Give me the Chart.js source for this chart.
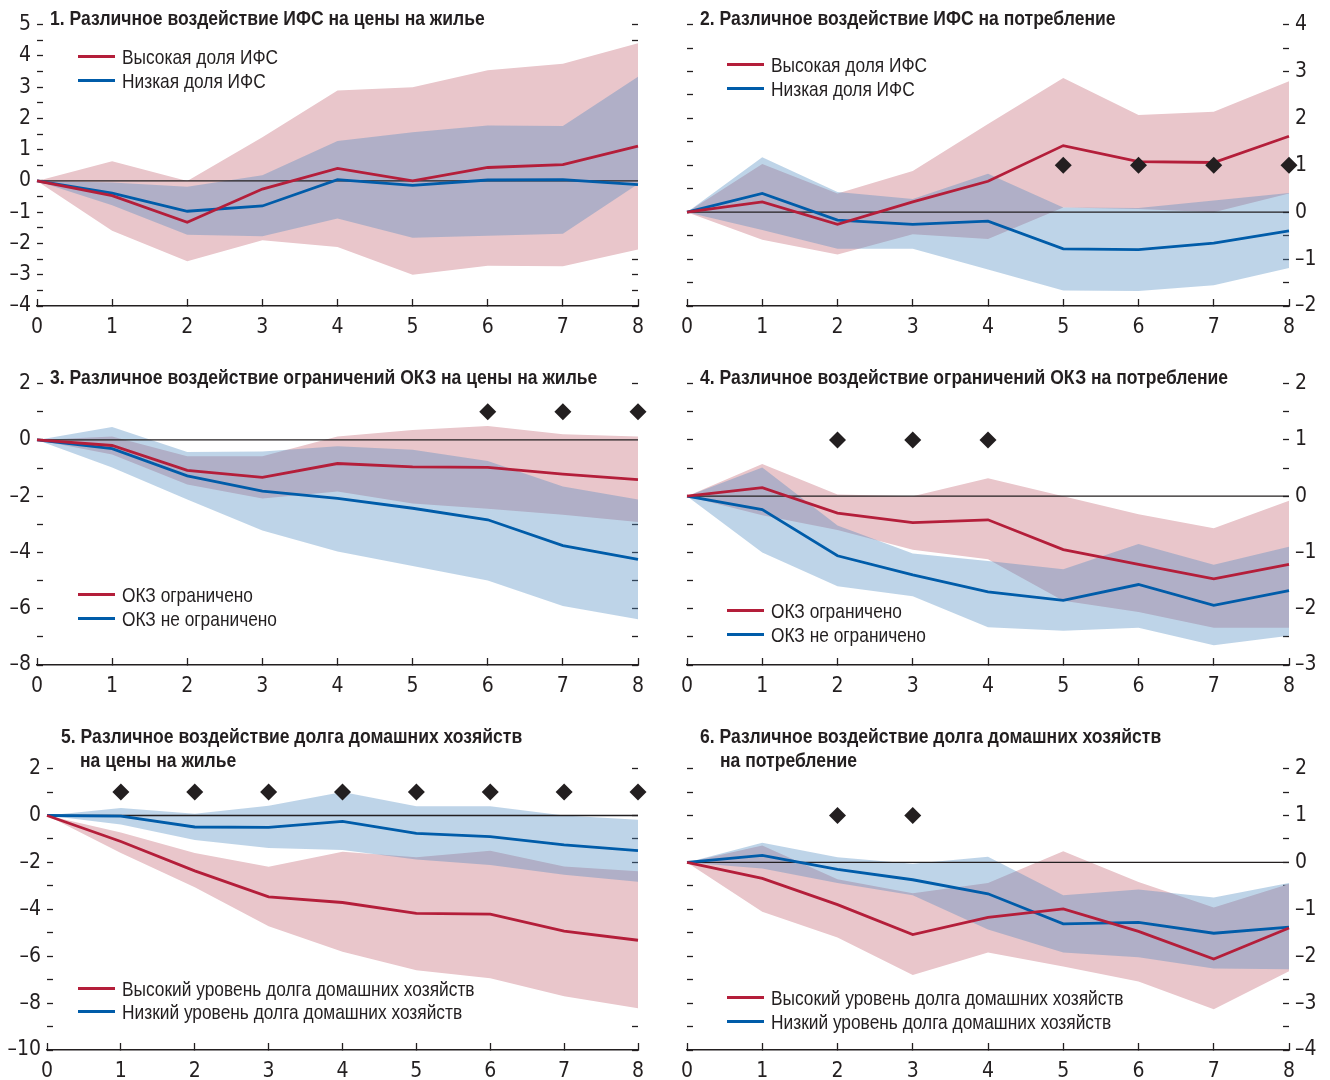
<!DOCTYPE html>
<html lang="ru">
<head>
<meta charset="utf-8">
<title>Различное воздействие ИФС, ограничений ОКЗ и долга домашних хозяйств</title>
<script src="https://cdn.jsdelivr.net/npm/chart.js@4.4.1/dist/chart.umd.min.js"></script>
<style>
  body {
    margin: 0;
    width: 1330px;
    height: 1080px;
    position: relative;
    overflow: hidden;
    background: #fff;
    color: #231f20;
    font-family: 'Liberation Sans', Arial, sans-serif;
  }
  .panel { position: absolute; }
  .title {
    position: absolute;
    font-weight: bold;
    font-size: 21px;
    line-height: 24px;
    white-space: nowrap;
    transform: scaleX(0.835);
    transform-origin: 0 50%;
  }
  .legend-row {
    position: absolute;
    height: 24px;
    line-height: 24px;
    font-size: 21px;
    white-space: nowrap;
  }
  .legend-row .sw {
    position: absolute;
    left: 0;
    top: 10px;
    width: 37px;
    height: 3px;
  }
  .legend-row .txt {
    position: absolute;
    left: 44px;
    top: 0;
    transform: scaleX(0.825);
    transform-origin: 0 50%;
  }
</style>
</head>
<body>
<script>
// горизонт (кварталы)
const horizons = ['0', '1', '2', '3', '4', '5', '6', '7', '8'];
const zeroLine = [0, 0, 0, 0, 0, 0, 0, 0, 0];

// 1. ИФС -> цены на жилье
const p1HighLine  = [0, -0.47, -1.32, -0.26, 0.40, 0.00, 0.43, 0.52, 1.11];
const p1LowLine   = [0, -0.39, -0.97, -0.80, 0.04, -0.14, 0.03, 0.04, -0.12];
const p1HighUpper = [0, 0.63, 0.00, 1.40, 2.89, 3.00, 3.54, 3.75, 4.40];
const p1HighLower = [0, -1.59, -2.57, -1.90, -2.11, -3.00, -2.71, -2.73, -2.19];
const p1LowUpper  = [0, -0.05, -0.19, 0.18, 1.28, 1.56, 1.77, 1.76, 3.33];
const p1LowLower  = [0, -0.78, -1.72, -1.77, -1.20, -1.82, -1.75, -1.69, -0.10];
const p1Marks     = [null, null, null, null, null, null, null, null, null];
const p1YLabels   = [-4, -3, -2, -1, 0, 1, 2, 3, 4, 5];

// 2. ИФС -> потребление
const p2HighLine  = [0, 0.22, -0.26, 0.22, 0.66, 1.42, 1.08, 1.06, 1.62];
const p2LowLine   = [0, 0.40, -0.17, -0.26, -0.19, -0.78, -0.80, -0.66, -0.40];
const p2HighUpper = [0, 1.03, 0.40, 0.88, 1.88, 2.86, 2.07, 2.14, 2.79];
const p2HighLower = [0, -0.59, -0.90, -0.47, -0.57, 0.10, 0.07, 0.00, 0.40];
const p2LowUpper  = [0, 1.17, 0.43, 0.28, 0.82, 0.10, 0.09, 0.25, 0.41];
const p2LowLower  = [0, -0.38, -0.78, -0.78, -1.22, -1.67, -1.68, -1.56, -1.19];
const p2Marks     = [null, null, null, null, null, 1, 1, 1, 1];
const p2YLabels   = [-2, -1, 0, 1, 2, 3, 4];

// 3. ОКЗ -> цены на жилье
const p3HighLine  = [0, -0.20, -1.08, -1.33, -0.84, -0.96, -0.98, -1.22, -1.41];
const p3LowLine   = [0, -0.31, -1.28, -1.82, -2.08, -2.43, -2.84, -3.76, -4.25];
const p3HighUpper = [0, 0.12, -0.58, -0.58, 0.12, 0.35, 0.49, 0.20, 0.12];
const p3HighLower = [0, -0.52, -1.59, -2.08, -1.83, -2.26, -2.45, -2.66, -2.92];
const p3LowUpper  = [0, 0.46, -0.43, -0.41, -0.23, -0.35, -0.75, -1.66, -2.12];
const p3LowLower  = [0, -0.98, -2.12, -3.22, -3.97, -4.48, -5.00, -5.90, -6.37];
const p3Marks     = [null, null, null, null, null, null, 1, 1, 1];
const p3YLabels   = [-8, -6, -4, -2, 0, 2];

// 4. ОКЗ -> потребление
const p4HighLine  = [0, 0.15, -0.30, -0.47, -0.42, -0.95, -1.21, -1.47, -1.21];
const p4LowLine   = [0, -0.24, -1.06, -1.40, -1.70, -1.85, -1.57, -1.94, -1.68];
const p4HighUpper = [0, 0.57, 0.03, 0.00, 0.32, 0.00, -0.32, -0.57, -0.08];
const p4HighLower = [0, -0.34, -0.60, -0.95, -1.12, -1.86, -2.06, -2.34, -2.34];
const p4LowUpper  = [0, 0.51, -0.52, -1.02, -1.15, -1.30, -0.85, -1.22, -0.90];
const p4LowLower  = [0, -1.00, -1.60, -1.78, -2.33, -2.39, -2.34, -2.65, -2.48];
const p4Marks     = [null, null, 1, 1, 1, null, null, null, null];
const p4YLabels   = [-3, -2, -1, 0, 1, 2];

// 5. долг домохозяйств -> цены на жилье
const p5HighLine  = [0, -1.11, -2.36, -3.47, -3.71, -4.17, -4.21, -4.93, -5.32];
const p5LowLine   = [0, -0.03, -0.49, -0.51, -0.25, -0.76, -0.90, -1.25, -1.50];
const p5HighUpper = [0, -0.72, -1.60, -2.19, -1.55, -1.78, -1.50, -2.17, -2.38];
const p5HighLower = [0, -1.60, -3.06, -4.72, -5.81, -6.60, -6.94, -7.71, -8.22];
const p5LowUpper  = [0, 0.32, 0.07, 0.42, 1.00, 0.39, 0.39, 0.00, -0.18];
const p5LowLower  = [0, -0.38, -1.04, -1.39, -1.47, -1.88, -2.11, -2.53, -2.82];
const p5Marks     = [null, 1, 1, 1, 1, 1, 1, 1, 1];
const p5YLabels   = [-10, -8, -6, -4, -2, 0, 2];

// 6. долг домохозяйств -> потребление
const p6HighLine  = [0, -0.34, -0.90, -1.54, -1.17, -0.99, -1.47, -2.06, -1.40];
const p6LowLine   = [0, 0.15, -0.15, -0.37, -0.67, -1.31, -1.28, -1.51, -1.38];
const p6HighUpper = [0, 0.36, -0.36, -0.66, -0.44, 0.24, -0.42, -0.96, -0.46];
const p6HighLower = [0, -1.05, -1.60, -2.40, -1.92, -2.22, -2.54, -3.13, -2.32];
const p6LowUpper  = [0, 0.42, 0.11, -0.03, 0.12, -0.70, -0.58, -0.75, -0.44];
const p6LowLower  = [0, -0.13, -0.44, -0.70, -1.43, -1.92, -2.02, -2.26, -2.28];
const p6Marks     = [null, null, 1, 1, null, null, null, null, null];
const p6YLabels   = [-4, -3, -2, -1, 0, 1, 2];

// подписи
const legendIfs  = ['Высокая доля ИФС', 'Низкая доля ИФС'];
const legendOkz  = ['ОКЗ ограничено', 'ОКЗ не ограничено'];
const legendDebt = ['Высокий уровень долга домашних хозяйств', 'Низкий уровень долга домашних хозяйств'];

const RED = '#b41e3a';
const BLUE = '#005ca9';
const PINK = '#e9c6cb';
const BLUE_BAND = 'rgba(74, 136, 192, 0.36)';
const INK = '#231f20';
const FONT = "'DejaVu Sans Condensed', 'Liberation Sans', sans-serif";

const panels = [
    {
        title: ['1. Различное воздействие ИФС на цены на жилье'], titleX: [50], titleY: [18],
        legend: legendIfs, legendX: 78, legendY: [57, 81],
        high: p1HighLine, low: p1LowLine, hu: p1HighUpper, hl: p1HighLower, lu: p1LowUpper, ll: p1LowLower,
        marks: p1Marks, yLabels: p1YLabels, minor: 0.5, side: 'left',
        box: { left: 0, top: 0 }, axisL: 37, axisR: 24, plotW: 601
    },
    {
        title: ['2. Различное воздействие ИФС на потребление'], titleX: [700], titleY: [18],
        legend: legendIfs, legendX: 727, legendY: [65, 89],
        high: p2HighLine, low: p2LowLine, hu: p2HighUpper, hl: p2HighLower, lu: p2LowUpper, ll: p2LowLower,
        marks: p2Marks, yLabels: p2YLabels, minor: 0.5, side: 'right',
        box: { left: 663, top: 0 }, axisL: 24, axisR: 37, plotW: 602
    },
    {
        title: ['3. Различное воздействие ограничений ОКЗ на цены на жилье'], titleX: [50], titleY: [377],
        legend: legendOkz, legendX: 78, legendY: [595, 619],
        high: p3HighLine, low: p3LowLine, hu: p3HighUpper, hl: p3HighLower, lu: p3LowUpper, ll: p3LowLower,
        marks: p3Marks, yLabels: p3YLabels, minor: 1, side: 'left',
        box: { left: 0, top: 359 }, axisL: 37, axisR: 24, plotW: 601
    },
    {
        title: ['4. Различное воздействие ограничений ОКЗ на потребление'], titleX: [700], titleY: [377],
        legend: legendOkz, legendX: 727, legendY: [611, 635],
        high: p4HighLine, low: p4LowLine, hu: p4HighUpper, hl: p4HighLower, lu: p4LowUpper, ll: p4LowLower,
        marks: p4Marks, yLabels: p4YLabels, minor: 0.5, side: 'right',
        box: { left: 663, top: 359 }, axisL: 24, axisR: 37, plotW: 602
    },
    {
        title: ['5. Различное воздействие долга домашних хозяйств', 'на цены на жилье'], titleX: [61, 80], titleY: [736, 760],
        legend: legendDebt, legendX: 78, legendY: [989, 1012],
        high: p5HighLine, low: p5LowLine, hu: p5HighUpper, hl: p5HighLower, lu: p5LowUpper, ll: p5LowLower,
        marks: p5Marks, yLabels: p5YLabels, minor: 1, side: 'left',
        box: { left: 0, top: 744 }, axisL: 47, axisR: 24, plotW: 591
    },
    {
        title: ['6. Различное воздействие долга домашних хозяйств', 'на потребление'], titleX: [700, 720], titleY: [736, 760],
        legend: legendDebt, legendX: 727, legendY: [998, 1022],
        high: p6HighLine, low: p6LowLine, hu: p6HighUpper, hl: p6HighLower, lu: p6LowUpper, ll: p6LowLower,
        marks: p6Marks, yLabels: p6YLabels, minor: 0.5, side: 'right',
        box: { left: 663, top: 744 }, axisL: 24, axisR: 37, plotW: 602
    }
];

const PLOT_H = 288;   // высота области графика
const PAD_TOP = 18;
const X_AXIS_H = 34;

document.addEventListener('DOMContentLoaded', function() {
    Chart.defaults.font.family = FONT;
    Chart.defaults.font.size = 21;
    Chart.defaults.color = INK;

    panels.forEach(function(p, i) {
        buildPanel(p, i);
        buildTitle(p);
        buildLegend(p);
    });
});

function fmtTick(v) {
    return v < 0 ? '\u2013' + Math.abs(v) : String(v);
}

function yAxis(p, position, showLabels, width) {
    const yMin = p.yLabels[0];
    const yMax = p.yLabels[p.yLabels.length - 1];
    return {
        position: position,
        min: yMin,
        max: yMax,
        border: { display: false },
        grid: {
            drawOnChartArea: false,
            drawTicks: true,
            tickLength: -6,
            tickColor: INK,
            tickWidth: 1.3
        },
        ticks: {
            stepSize: p.minor,
            maxTicksLimit: 100,
            autoSkip: false,
            padding: 12,
            color: INK,
            callback: function(v) {
                if (!showLabels) return '';
                const hit = p.yLabels.some(l => Math.abs(l - v) < 1e-6);
                return hit ? fmtTick(v) : '';
            }
        },
        afterFit: function(scale) { scale.width = width; }
    };
}

function buildPanel(p, idx) {
    const wrap = document.createElement('div');
    wrap.className = 'panel';
    const w = p.axisL + p.plotW + p.axisR;
    const h = PAD_TOP + PLOT_H + X_AXIS_H;
    wrap.style.left = p.box.left + 'px';
    wrap.style.top = p.box.top + 'px';
    wrap.style.width = w + 'px';
    wrap.style.height = h + 'px';

    const canvas = document.createElement('canvas');
    canvas.width = w;
    canvas.height = h;
    canvas.id = 'chart' + (idx + 1);
    wrap.appendChild(canvas);
    document.body.appendChild(wrap);

    const band = { borderWidth: 0, borderColor: 'transparent', pointRadius: 0 };

    new Chart(canvas.getContext('2d'), {
        type: 'line',
        data: {
            labels: horizons,
            datasets: [
                Object.assign({ label: 'hu', data: p.hu, fill: 1, backgroundColor: PINK, order: 6 }, band),
                Object.assign({ label: 'hl', data: p.hl, fill: false, order: 6 }, band),
                Object.assign({ label: 'lu', data: p.lu, fill: 3, backgroundColor: BLUE_BAND, order: 5 }, band),
                Object.assign({ label: 'll', data: p.ll, fill: false, order: 5 }, band),
                {
                    label: 'zero', data: zeroLine, borderColor: INK, borderWidth: 1.3,
                    pointRadius: 0, fill: false, order: 4
                },
                {
                    label: p.legend[1], data: p.low, borderColor: BLUE, borderWidth: 2.8,
                    pointRadius: 0, fill: false, order: 3
                },
                {
                    label: p.legend[0], data: p.high, borderColor: RED, borderWidth: 2.8,
                    pointRadius: 0, fill: false, order: 2
                },
                {
                    label: 'marks', data: p.marks, showLine: false, pointStyle: 'rectRot',
                    pointRadius: 8.5, backgroundColor: INK, borderColor: INK, borderWidth: 0,
                    clip: false, order: 1
                }
            ]
        },
        options: {
            responsive: false,
            animation: false,
            layout: { padding: { top: PAD_TOP, left: 0, right: 0, bottom: 0 } },
            plugins: {
                legend: { display: false },
                tooltip: { enabled: false }
            },
            scales: {
                x: {
                    offset: false,
                    border: { display: true, color: INK, width: 1.5 },
                    grid: {
                        drawOnChartArea: false,
                        drawTicks: true,
                        tickLength: -7,
                        tickColor: INK,
                        tickWidth: 1.3
                    },
                    ticks: { padding: 16, color: INK, maxRotation: 0, autoSkip: false },
                    afterFit: function(scale) { scale.height = X_AXIS_H; }
                },
                y: yAxis(p, 'left', p.side === 'left', p.axisL),
                y2: yAxis(p, 'right', p.side === 'right', p.axisR)
            }
        }
    });
}

function buildTitle(p) {
    p.title.forEach(function(line, i) {
        const el = document.createElement('div');
        el.className = 'title';
        el.textContent = line;
        el.style.left = p.titleX[i] + 'px';
        el.style.top = (p.titleY[i] - 12) + 'px';
        document.body.appendChild(el);
    });
}

function buildLegend(p) {
    const colors = [RED, BLUE];
    p.legend.forEach(function(text, i) {
        const row = document.createElement('div');
        row.className = 'legend-row';
        row.style.left = p.legendX + 'px';
        row.style.top = (p.legendY[i] - 12) + 'px';
        row.innerHTML = '<span class="sw"></span><span class="txt"></span>';
        row.querySelector('.sw').style.background = colors[i];
        row.querySelector('.txt').textContent = text;
        document.body.appendChild(row);
    });
}
</script>
</body>
</html>
